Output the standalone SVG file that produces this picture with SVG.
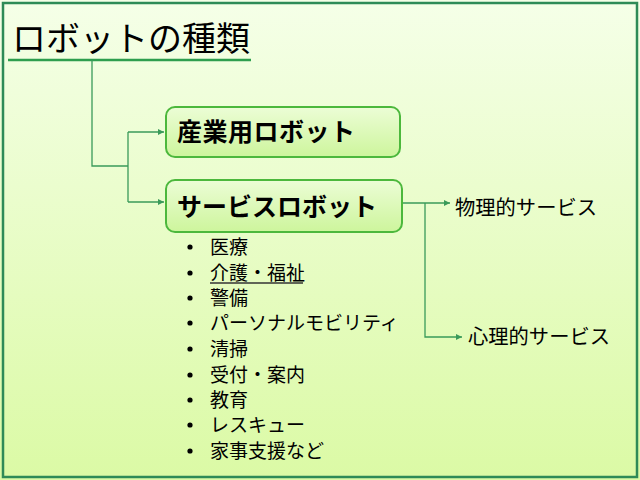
<svg xmlns="http://www.w3.org/2000/svg" width="640" height="480" viewBox="0 0 640 480">
<defs>
<linearGradient id="bg" x1="0" y1="0" x2="0" y2="1">
<stop offset="0" stop-color="#f5ffe8"/>
<stop offset="1" stop-color="#dbfaa5"/>
</linearGradient>
<linearGradient id="box" x1="0" y1="0" x2="0" y2="1">
<stop offset="0" stop-color="#ecfdd6"/>
<stop offset="1" stop-color="#cdf59c"/>
</linearGradient>
<marker id="arr" viewBox="0 0 6 6" refX="6" refY="3" markerWidth="6" markerHeight="6" markerUnits="userSpaceOnUse" orient="auto">
<path d="M0,0 L6,3 L0,6 z" fill="#3a9a5a"/>
</marker>
<style>
.t{font-family:"Noto Sans CJK JP","Noto Sans",sans-serif;fill:#000}
.node{fill:url(#box);stroke:#4cb83c;stroke-width:2}
.conn{fill:none;stroke:#3a9a5a;stroke-width:1.3}
.li{font-size:19px}
.b{fill:#000}
</style>
</defs>
<rect x="0" y="0" width="640" height="480" fill="url(#bg)"/>
<rect x="3" y="3" width="634" height="474" fill="none" stroke="#2e8b57" stroke-width="2.5"/>
<g id="title">
<text class="t" x="12" y="51" font-size="34">ロボットの種類</text>
<line x1="8" y1="60" x2="251" y2="60" stroke="#2e9e4e" stroke-width="2.5"/>
</g>
<g id="connectors">
<path class="conn" d="M92,60 V166 H128"/>
<path class="conn" d="M128,132 V202"/>
<path class="conn" d="M128,132 H164" marker-end="url(#arr)"/>
<path class="conn" d="M128,202 H164" marker-end="url(#arr)"/>
<path class="conn" d="M403,203 H450" marker-end="url(#arr)"/>
<path class="conn" d="M425,203 V337 H462" marker-end="url(#arr)"/>
</g>
<g id="industrial">
<rect class="node" x="166" y="107" width="234" height="50" rx="9"/>
<text class="t" x="177" y="141" font-size="25" font-weight="bold" letter-spacing="0.5">産業用ロボット</text>
</g>
<g id="service">
<rect class="node" x="166" y="180" width="236" height="52" rx="9"/>
<text class="t" x="177" y="216" font-size="25" font-weight="bold">サービスロボット</text>
</g>
<g id="physical">
<text class="t" x="455" y="215" font-size="20.3">物理的サービス</text>
</g>
<g id="mental">
<text class="t" x="468" y="344" font-size="20.3">心理的サービス</text>
</g>
<g id="list">
<circle class="b" cx="190" cy="247" r="2.6"/><text class="t li" x="210" y="254">医療</text>
<circle class="b" cx="190" cy="273" r="2.6"/><text class="t li" x="210" y="280">介護・福祉</text>
<line x1="210" y1="283" x2="303" y2="283" stroke="#333" stroke-width="1.5"/>
<circle class="b" cx="190" cy="298" r="2.6"/><text class="t li" x="210" y="305">警備</text>
<circle class="b" cx="190" cy="323" r="2.6"/><text class="t li" x="210" y="330">パーソナルモビリティ</text>
<circle class="b" cx="190" cy="349" r="2.6"/><text class="t li" x="210" y="356">清掃</text>
<circle class="b" cx="190" cy="375" r="2.6"/><text class="t li" x="210" y="382">受付・案内</text>
<circle class="b" cx="190" cy="400" r="2.6"/><text class="t li" x="210" y="407">教育</text>
<circle class="b" cx="190" cy="425" r="2.6"/><text class="t li" x="210" y="432">レスキュー</text>
<circle class="b" cx="190" cy="451" r="2.6"/><text class="t li" x="210" y="458">家事支援など</text>
</g>
</svg>
